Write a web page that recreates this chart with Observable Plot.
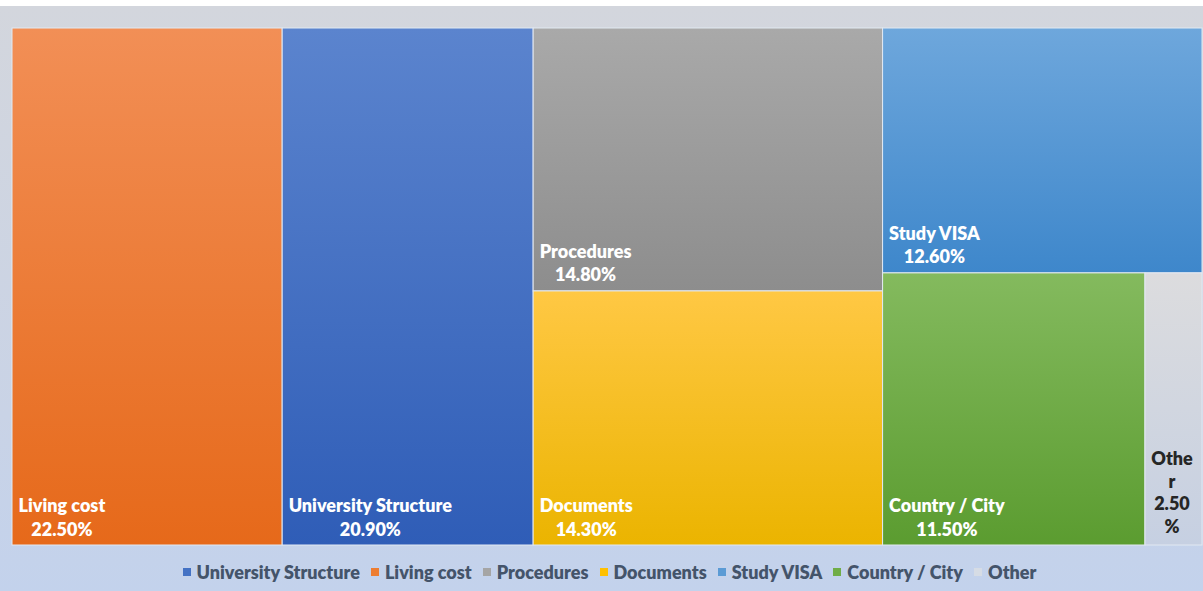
<!DOCTYPE html>
<html>
<head>
<meta charset="utf-8">
<script src="https://cdn.jsdelivr.net/npm/d3@7"></script>
<script src="https://cdn.jsdelivr.net/npm/@observablehq/plot@0.6"></script>
<style>
  html, body { margin: 0; padding: 0; background: #fff; }
  #wrap {
    width: 1203px; height: 591px; overflow: hidden;
    background: linear-gradient(to bottom, #ffffff 0px, #ffffff 6px, #D3D6DD 6px, #C9D3E6 70%, #C3D2EC 100%);
  }
  #wrap svg { display: block; background: transparent; }
  .lg-swatches { justify-content: center; font: 800 18px Lato, sans-serif; color: #44546A;
    margin: 0; min-height: 39px; height: 39px; padding-left: 27px; box-sizing: border-box; width: 1203px; }
  .lg-swatch { margin-right: 11px; }
  .lg-swatch > svg { margin-right: 6px; }
</style>
</head>
<body>
<div id="wrap"></div>
<script>
// ---- data ----
const categories = ["Living cost", "University Structure", "Procedures", "Documents", "Study VISA", "Country / City", "Other"];
const values = [22.5, 20.9, 14.8, 14.3, 12.6, 11.5, 2.5];
const layoutGroups = [["Living cost"], ["University Structure"], ["Procedures", "Documents"], ["Study VISA", ["Country / City", "Other"]]];
const legendOrder = ["University Structure", "Living cost", "Procedures", "Documents", "Study VISA", "Country / City", "Other"];
const baseColors = {"University Structure": "#4472C4", "Living cost": "#ED7D31", "Procedures": "#A5A5A5", "Documents": "#FFC000", "Study VISA": "#5B9BD5", "Country / City": "#70AD47", "Other": "#D6DCE5"};
const gradientTop = ["#F28F56", "#5B84CE", "#A9A9A9", "#FFC844", "#6EA7DC", "#84BA5E", "#DCDCDE"];
const gradientBottom = ["#E6691A", "#2F5DB7", "#8D8D8D", "#EBB400", "#3E87CB", "#5B9C30", "#C6D0E2"];

// ---- layout ----
const W = 1203, H = 552;
const mT = 28, mL = 12, mR = 1, mB = 7;
const plotW = W - mL - mR;

function toNode(g) {
  if (typeof g === "string") return {name: g, value: values[categories.indexOf(g)]};
  return {children: g.map(toNode)};
}
const root = d3.hierarchy({children: layoutGroups.map(toNode)}).sum(d => d.value || 0);
d3.treemap().tile(d3.treemapSliceDice).size([100, 100]).round(false)(root);
const leaves = root.leaves().map(l => ({
  name: l.data.name, value: l.data.value, idx: categories.indexOf(l.data.name),
  x0: l.x0, x1: l.x1, y0: l.y0, y1: l.y1
}));

function chunk(s, n) {
  const out = [];
  for (let i = 0; i < s.length; i += n) out.push(s.slice(i, i + n));
  return out;
}
const isNarrow = d => (d.x1 - d.x0) / 100 * plotW < 80;
const pct = d => d.value.toFixed(2) + "%";
const wideLeaves = leaves.filter(d => !isNarrow(d));
const narrowLeaves = leaves.filter(isNarrow);
const narrowText = d => {
  const n = Math.max(1, Math.floor((d.x1 - d.x0) / 100 * plotW / 13));
  return [...chunk(d.name, n), ...chunk(pct(d), n)].join("\n");
};

const gradients = () => {
  const defs = d3.create("svg:defs");
  categories.forEach((c, i) => {
    const g = defs.append("linearGradient").attr("id", "tmgrad" + i)
      .attr("x1", 0).attr("y1", 0).attr("x2", 0).attr("y2", 1);
    g.append("stop").attr("offset", "0%").attr("stop-color", gradientTop[i]);
    g.append("stop").attr("offset", "100%").attr("stop-color", gradientBottom[i]);
  });
  return defs.node();
};

const chart = Plot.plot({
  width: W, height: H,
  marginTop: mT, marginLeft: mL, marginRight: mR, marginBottom: mB,
  style: {background: "transparent"},
  x: {domain: [0, 100], axis: null},
  y: {domain: [0, 100], axis: null, reverse: true},
  color: {type: "identity"},
  marks: [
    gradients,
    Plot.rect(leaves, {x1: "x0", x2: "x1", y1: "y0", y2: "y1", fill: d => `url(#tmgrad${d.idx})`, stroke: "#E2E9F2", strokeWidth: 1}),
    Plot.text(wideLeaves, {x: "x0", y: "y1", text: d => d.name + "\n" + pct(d), textAnchor: "start", lineAnchor: "bottom",
      dx: 6, dy: -10, fill: "white", fontSize: 18, fontWeight: 800, fontFamily: "Lato, sans-serif", lineHeight: 1.28}),
    Plot.text(narrowLeaves, {x: d => (d.x0 + d.x1) / 2, y: "y1", text: narrowText, textAnchor: "middle", lineAnchor: "bottom",
      dx: -2, dy: -13, fill: "#262626", fontSize: 18, fontWeight: 800, fontFamily: "Lato, sans-serif", lineHeight: 1.25})
  ]
});

const legend = Plot.legend({
  color: {type: "ordinal", domain: legendOrder, range: legendOrder.map(c => baseColors[c])},
  legend: "swatches", swatchSize: 8, className: "lg"
});

const wrap = document.getElementById("wrap");
wrap.appendChild(chart);
wrap.appendChild(legend);

// center lines of each label relative to each other (left-aligned block)
chart.querySelectorAll('g[fill="white"] text').forEach(t => {
  const spans = [...t.querySelectorAll("tspan")];
  if (spans.length < 2) return;
  const ws = spans.map(s => s.getComputedTextLength());
  const m = Math.max(...ws);
  spans.forEach((s, i) => s.setAttribute("x", ((m - ws[i]) / 2).toFixed(2)));
});
</script>
</body>
</html>
